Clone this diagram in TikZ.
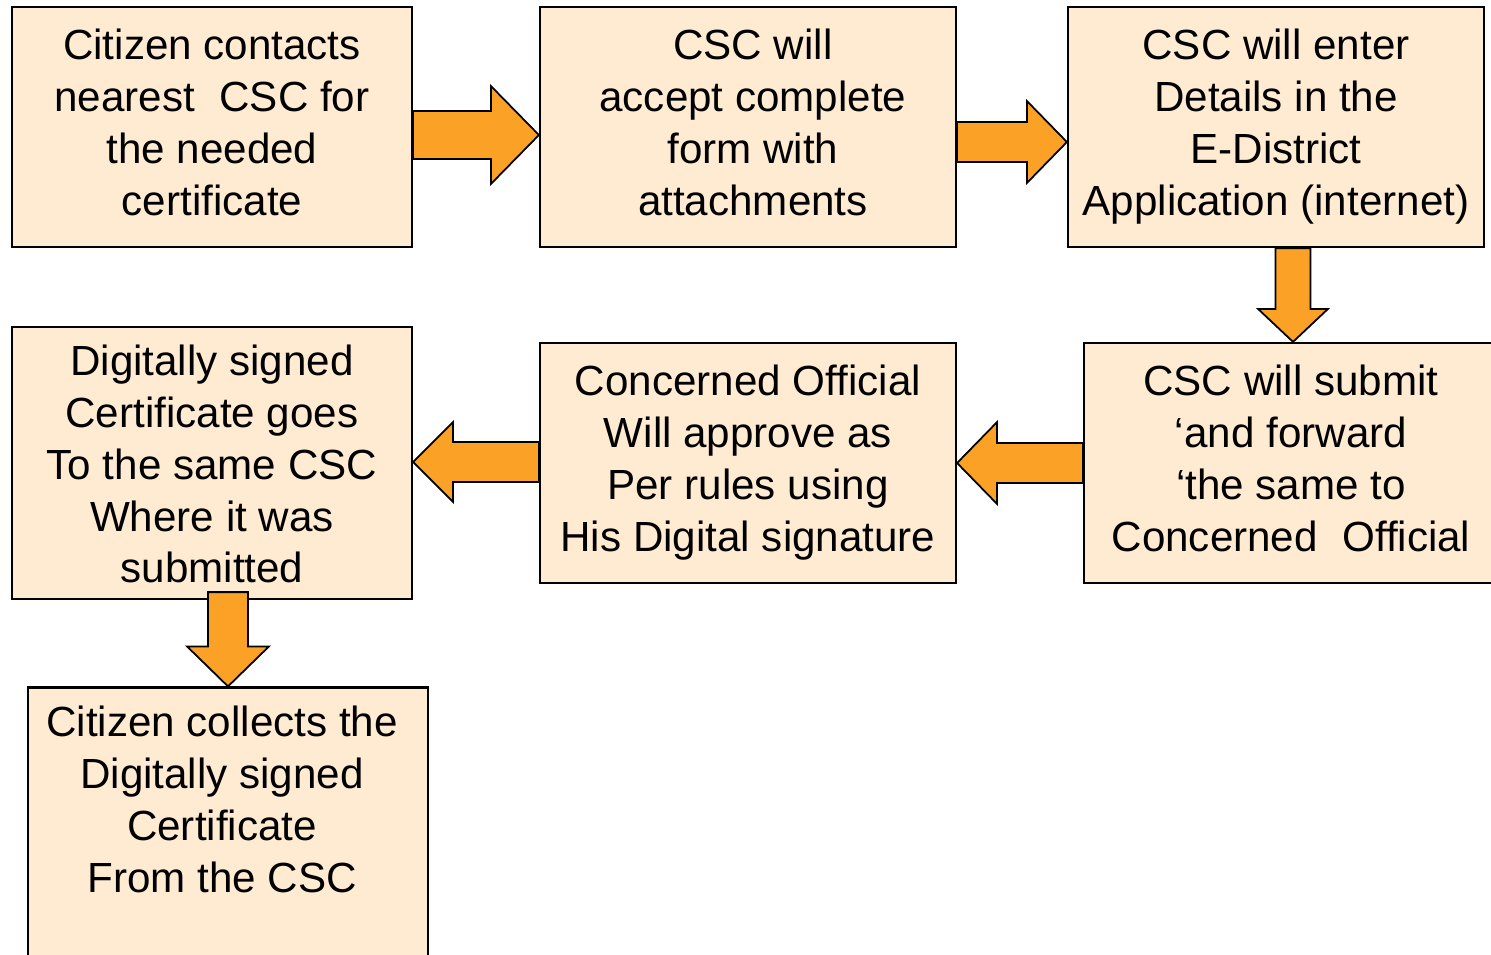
\documentclass[tikz,border=0pt]{standalone}
\usepackage{fontspec}
\setmainfont{Liberation Sans}
\usetikzlibrary{calc}
\definecolor{boxfill}{RGB}{255,235,210}
\definecolor{arrfill}{RGB}{250,161,38}
\tikzset{
  stepbox/.style={draw=black, line width=1.3pt, fill=boxfill, rectangle, inner sep=0pt, align=center,
    font=\fontsize{24}{29.5}\selectfont},
  barrow/.style={draw=black, line width=1pt, fill=arrfill, line join=miter},
}
% horizontal block arrow: tail, tip, shaft half, head half, head length (signed: + for rightwards)
\newcommand{\harr}[5]{%
  \draw[barrow] ($(#1)+(0,{-(#3)})$) -- ($(#2)+({-(#5)},{-(#3)})$) -- ($(#2)+({-(#5)},{-(#4)})$) -- (#2)
    -- ($(#2)+({-(#5)},{#4})$) -- ($(#2)+({-(#5)},{#3})$) -- ($(#1)+(0,{#3})$) -- cycle;}
% vertical block arrow (downwards)
\newcommand{\varr}[5]{%
  \draw[barrow] ($(#1)+({-(#3)},0)$) -- ($(#2)+({-(#3)},{-(#5)})$) -- ($(#2)+({-(#4)},{-(#5)})$) -- (#2)
    -- ($(#2)+({#4},{-(#5)})$) -- ($(#2)+({#3},{-(#5)})$) -- ($(#1)+({#3},0)$) -- cycle;}
\newcommand{\sst}{\strut}
\newcommand{\bsh}{\hspace*{5.6pt}}
\newcommand{\csh}{\hspace*{5.6pt}}
\begin{document}
\begin{tikzpicture}[x=0.02cm,y=-0.02cm]
\useasboundingbox (0,0) rectangle (1491,954);
\clip (0,0) rectangle (1491,954);
% boxes
\node[stepbox, minimum width=8cm, minimum height=4.8cm] (A) at (212,127)
  {\sst Citizen contacts\\\sst nearest\hspace{0.3em} CSC for\\\sst the needed\\\sst certificate};
\node[stepbox, minimum width=8.32cm, minimum height=4.8cm] (B) at (748,127)
  {\bsh\sst CSC will\\\bsh\sst accept complete\\\bsh\sst form with\\\bsh\sst attachments};
\node[stepbox, minimum width=8.32cm, minimum height=4.8cm] (C) at (1276,127)
  {\sst CSC will enter\\\sst Details in the\csh\\\sst E-District\csh\\\sst Application (internet)};
\node[stepbox, minimum width=8.28cm, minimum height=4.8cm] (D) at (1291,463)
  {\sst CSC will submit\\\sst ‘and forward\\\sst ‘the same to\csh\\\sst Concerned\hspace{0.3em} Official};
\node[stepbox, minimum width=8.32cm, minimum height=4.8cm] (E) at (748,463)
  {\sst Concerned Official\\\sst Will approve as\\\sst Per rules using\\\sst His Digital signature};
\node[stepbox, minimum width=8cm, minimum height=5.44cm] (F) at (212,463)
  {\rule{0pt}{27.4pt}Digitally signed\\\sst Certificate goes\\\sst To the same CSC\\\sst Where it was\\\sst submitted};
\node[stepbox, minimum width=8cm, minimum height=5.9cm] (G) at (228,835) {};
\node[align=center, inner sep=0pt, font=\fontsize{24}{29.5}\selectfont] (Gt) at (222,804)
  {\sst Citizen collects the\\\sst Digitally signed\\\sst Certificate\\\sst From the CSC};
% arrow end points
\coordinate (ab0) at ($(A.east)+(0,8)$);
\coordinate (ab1) at ($(B.west)+(0,8)$);
\coordinate (bc0) at ($(B.east)+(0,15)$);
\coordinate (bc1) at ($(C.west)+(0,15)$);
\coordinate (cd0) at ($(C.south)+(17,0)$);
\coordinate (cd1) at ($(D.north)+(2,0)$);
\coordinate (de0) at (D.west);
\coordinate (de1) at (E.east);
\coordinate (ef0) at ($(E.west)+(0,-1)$);
\coordinate (ef1) at ($(F.east)+(0,-1)$);
\coordinate (fg0) at ($(F.south)+(16,-8)$);
\coordinate (fg1) at (G.north);
% arrows
\harr{ab0}{ab1}{24}{49}{48}
\harr{bc0}{bc1}{20}{41}{40}
\varr{cd0}{cd1}{17.5}{35}{33}
\harr{de0}{de1}{20}{41}{-40}
\harr{ef0}{ef1}{20}{40}{-40}
\varr{fg0}{fg1}{20}{41}{40}
\end{tikzpicture}
\end{document}
